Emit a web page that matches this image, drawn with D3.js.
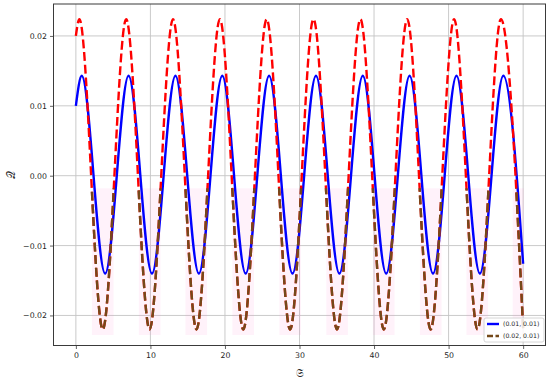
<!DOCTYPE html>
<html>
<head>
<meta charset="utf-8">
<script src="https://cdn.jsdelivr.net/npm/d3@7"></script>
<style>
  body { margin: 0; background: #fff; }
  svg { display: block; font-family: "DejaVu Sans", sans-serif; }
</style>
</head>
<body>
<svg width="550" height="383"></svg>
<script>
/* ---------- data (extrema of each curve) ---------- */
const blueX = [0, 0.79, 3.93, 7.07, 10.21, 13.36, 16.50, 19.64, 22.78, 25.92, 29.06,
               32.21, 35.35, 38.49, 41.63, 44.77, 47.91, 51.06, 54.20, 57.34, 60];
const blueY = [0.0100, 0.0143, -0.0140, 0.0143, -0.0140, 0.0143, -0.0140, 0.0143, -0.0140, 0.0143, -0.0140,
               0.0143, -0.0140, 0.0143, -0.0140, 0.0143, -0.0140, 0.0143, -0.0140, 0.0143, -0.0126];

const redX = [0, 0.47, 3.61, 6.75, 9.89, 13.03, 16.18, 19.32, 22.46, 25.60, 28.74,
              31.88, 35.03, 38.17, 41.31, 44.45, 47.59, 50.74, 53.88, 57.02, 60];
const redY = [0.0200, 0.0224, -0.0220, 0.0224, -0.0220, 0.0224, -0.0220, 0.0224, -0.0220, 0.0224, -0.0220,
              0.0224, -0.0220, 0.0224, -0.0220, 0.0224, -0.0220, 0.0224, -0.0220, 0.0224, -0.0219];

// pink bands behind the troughs of the dashed curve
const bandX0 = [2.15, 8.45, 14.7, 21.0, 27.3, 33.6, 39.85, 46.15, 52.4, 58.6];
const bandX1 = [5.05, 11.35, 17.6, 23.9, 30.2, 36.5, 42.75, 49.05, 55.3, 60.1];
const bandTop = -0.0018, bandBottom = -0.0228;

const xTicks = [0, 10, 20, 30, 40, 50, 60];
const yTicks = [-0.02, -0.01, 0, 0.01, 0.02];
const legendLabels = ["(0.01, 0.01)", "(0.02, 0.01)"];

/* --------------- chart --------------- */
const svg = d3.select("svg");
const L = 53.5, R = 545.5, T = 4, B = 345.5;

const x = d3.scaleLinear().domain([-3, 63]).range([L, R]);
const y = d3.scaleLinear().domain([-0.02430, 0.02457]).range([B, T]);

// grid
svg.append("g").selectAll("line").data(xTicks).enter().append("line")
  .attr("x1", d => x(d)).attr("x2", d => x(d)).attr("y1", T).attr("y2", B)
  .attr("stroke", "#c4c4c4").attr("stroke-width", 0.9);
svg.append("g").selectAll("line").data(yTicks).enter().append("line")
  .attr("y1", d => y(d)).attr("y2", d => y(d)).attr("x1", L).attr("x2", R)
  .attr("stroke", "#c4c4c4").attr("stroke-width", 0.9);

svg.append("defs").append("clipPath").attr("id", "plot")
  .append("rect").attr("x", L).attr("y", T).attr("width", R - L).attr("height", B - T);
svg.select("defs").append("clipPath").attr("id", "low")
  .append("rect").attr("x", L).attr("y", y(bandTop)).attr("width", R - L).attr("height", B - y(bandTop));

const plot = svg.append("g").attr("clip-path", "url(#plot)");

// pink bands
plot.selectAll(".band").data(bandX0).enter().append("rect")
  .attr("class", "band")
  .attr("x", (d, i) => x(d)).attr("width", (d, i) => x(bandX1[i]) - x(d))
  .attr("y", y(bandTop)).attr("height", y(bandBottom) - y(bandTop))
  .attr("fill", "#ff7fd0").attr("opacity", 0.1);

const line = d3.line().curve(d3.curveMonotoneX).x(d => x(d[0])).y(d => y(d[1]));
const blue = blueX.map((v, i) => [v, blueY[i]]);
const red = redX.map((v, i) => [v, redY[i]]);

plot.append("path").datum(blue).attr("d", line)
  .attr("fill", "none").attr("stroke", "#0000ff").attr("stroke-width", 2.4);
plot.append("path").datum(red).attr("d", line)
  .attr("fill", "none").attr("stroke", "#ff0000").attr("stroke-width", 2.4)
  .attr("stroke-dasharray", "8.9,3.8");
plot.append("g").attr("clip-path", "url(#low)")
  .append("path").datum(red).attr("d", line)
  .attr("fill", "none").attr("stroke", "#74491a").attr("stroke-width", 2.4)
  .attr("stroke-dasharray", "8.9,3.8");

// frame
svg.append("rect").attr("x", L).attr("y", T).attr("width", R - L).attr("height", B - T)
  .attr("fill", "none").attr("stroke", "#3a3a3a").attr("stroke-width", 1);

// axes
const xAxis = d3.axisBottom(x).tickValues(xTicks).tickSize(3.5).tickPadding(3).tickFormat(d3.format("d"));
const yAxis = d3.axisLeft(y).tickValues(yTicks).tickSize(3.5).tickPadding(3)
  .tickFormat(d => d3.format(".2f")(d).replace("-", "\u2212"));

const gx = svg.append("g").attr("transform", `translate(0,${B})`).call(xAxis);
const gy = svg.append("g").attr("transform", `translate(${L},0)`).call(yAxis);
[gx, gy].forEach(g => {
  g.select(".domain").remove();
  g.selectAll("line").attr("stroke", "#3a3a3a").attr("stroke-width", 0.8);
  g.selectAll("text").attr("fill", "#262626").style("font-size", "7.8px")
    .style("font-family", "'DejaVu Sans', sans-serif");
});

// axis labels
svg.append("text").attr("x", (L + R) / 2).attr("y", 377)
  .attr("text-anchor", "middle").style("font-size", "11px").attr("fill", "#262626")
  .style("font-family", "'DejaVu Serif', 'DejaVu Sans', serif")
  .text("\u{1D516}");
svg.append("text").attr("transform", `translate(15,${(T + B) / 2}) rotate(-90)`)
  .attr("text-anchor", "middle").style("font-size", "11px").attr("fill", "#262626")
  .style("font-family", "'DejaVu Serif', 'DejaVu Sans', serif")
  .text("\u{1D4AC}");

// legend
const lg = svg.append("g").attr("transform", "translate(484,318)");
lg.append("rect").attr("width", 60).attr("height", 24).attr("rx", 2)
  .attr("fill", "#fff").attr("fill-opacity", 0.85).attr("stroke", "#cccccc").attr("stroke-width", 0.8);
const items = lg.selectAll(".item").data(legendLabels).enter().append("g")
  .attr("transform", (d, i) => `translate(0,${6 + i * 12})`);
items.append("line").attr("x1", 3).attr("x2", 15).attr("y1", 0).attr("y2", 0)
  .attr("stroke", (d, i) => i === 0 ? "#0000ff" : "#74491a").attr("stroke-width", 2.4)
  .attr("stroke-dasharray", (d, i) => i === 0 ? null : "6,2.5");
items.append("text").attr("x", 19).attr("y", 0).attr("dy", "0.35em")
  .style("font-size", "6.2px").attr("fill", "#262626").text(d => d);
</script>
</body>
</html>
